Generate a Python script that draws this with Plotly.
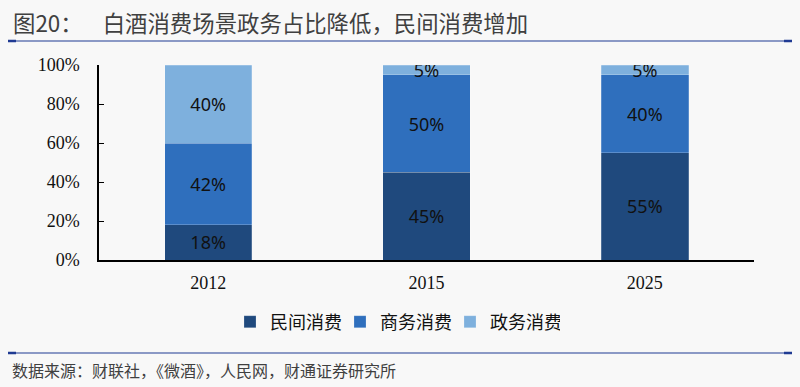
import plotly.graph_objects as go

years = ["2012", "2015", "2025"]
minjian = [18, 45, 55]
shangwu = [42, 50, 40]
zhengwu = [40, 5, 5]
series_names = ["民间消费", "商务消费", "政务消费"]
colors = ["#1f497d", "#2f6fbd", "#7eb0dd"]
tick_vals = [0, 20, 40, 60, 80, 100]
tick_text = ["0%", "20%", "40%", "60%", "80%", "100%"]

fig = go.Figure()
for name, vals, col in zip(series_names, [minjian, shangwu, zhengwu], colors):
    fig.add_trace(go.Bar(
        x=years, y=vals, name=name,
        marker=dict(color=col, line=dict(color="rgba(255,255,255,0.35)", width=0.6)),
        text=[f"{v}%" for v in vals], textposition="inside", insidetextanchor="middle",
        textfont=dict(family="Noto Sans, Liberation Sans, sans-serif", size=18, color="#111111"),
        width=0.4,
    ))

L, R, T, B = 99, 46, 65, 127
W, H = 800, 387
pw = W - L - R
ph = H - T - B

fig.update_layout(
    barmode="stack",
    width=W, height=H,
    paper_bgcolor="#f8f8f8", plot_bgcolor="#f8f8f8",
    margin=dict(l=L, r=R, t=T, b=B),
    showlegend=True,
    legend=dict(orientation="h", x=(230 - L) / pw, xanchor="left", y=(H - B - 322) / ph, yanchor="middle",
                font=dict(family="Noto Sans CJK SC", size=18, color="#111111"),
                traceorder="normal", bgcolor="rgba(0,0,0,0)",
                entrywidth=65, entrywidthmode="pixels"),
    uniformtext=dict(minsize=10, mode="show"),
)
fig.update_xaxes(type="category", showline=True, linecolor="#000000", linewidth=1.5,
                 ticks="", ticklabelstandoff=6,
                 tickfont=dict(family="Liberation Serif", size=18, color="#111111"),
                 showgrid=False)
fig.update_yaxes(range=[0, 100], tickvals=tick_vals, ticktext=tick_text,
                 showline=True, linecolor="#000000", linewidth=1.5,
                 ticks="inside", ticklen=5, tickcolor="#000000", ticklabelstandoff=14,
                 tickfont=dict(family="Liberation Serif", size=18, color="#111111"),
                 showgrid=False, zeroline=False)

fig.add_annotation(text="图20：    白酒消费场景政务占比降低，民间消费增加",
                   xref="paper", yref="paper", x=(11 - L) / pw, y=(H - B - 22) / ph,
                   xanchor="left", yanchor="middle", showarrow=False,
                   font=dict(family="Noto Sans CJK SC", size=22.4, color="#404040"))
fig.add_annotation(text="数据来源：财联社，《微酒》，人民网，财通证券研究所",
                   xref="paper", yref="paper", x=(10 - L) / pw, y=(H - B - 370) / ph,
                   xanchor="left", yanchor="middle", showarrow=False,
                   font=dict(family="Noto Sans CJK SC", size=16, color="#404040"))
for ypix in (41, 353):
    yp = (H - B - ypix) / ph
    fig.add_shape(type="line", xref="paper", yref="paper",
                  x0=(8 - L) / pw, x1=(792 - L) / pw, y0=yp, y1=yp,
                  line=dict(color="#1f3a93", width=1))
    for a, b in ((8, 16), (784, 792)):
        fig.add_shape(type="line", xref="paper", yref="paper",
                      x0=(a - L) / pw, x1=(b - L) / pw, y0=yp, y1=yp,
                      line=dict(color="#1f3a93", width=2.5))

fig.write_html("out.html", config={"displayModeBar": False},
               post_script="document.body.style.margin='0';document.body.style.overflow='hidden';")
